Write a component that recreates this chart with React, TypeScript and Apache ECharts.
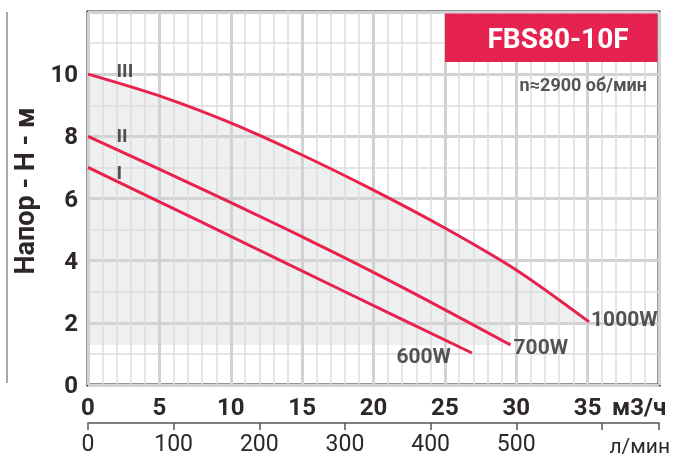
import React, { useEffect, useRef } from "react";
import * as echarts from "echarts";

// ---- data (flow in m³/h, head in m) ----
const curve1000X = [0, 5, 10, 15, 20, 25, 30, 35.1];
const curve1000Y = [10, 9.3, 8.43, 7.4, 6.27, 5.05, 3.7, 2.03];
const curve700X = [0, 8, 15.4, 22, 29.6];
const curve700Y = [8, 6.3, 4.68, 3.15, 1.29];
const curve600X = [0, 8, 18, 26.9];
const curve600Y = [7, 5.23, 3.0, 1.03];

const curveNames = ["1000W", "700W", "600W"];
const romanNames = ["III", "II", "I"];
const romanX = [2, 2, 2];
const romanY = [10.13, 8.03, 6.84];

const flowTicks = [0, 5, 10, 15, 20, 25, 30, 35];
const lpmTicks = [0, 100, 200, 300, 400, 500];
const headTicks = [0, 2, 4, 6, 8, 10];

const X_MAX = 40;
const Y_MAX = 12;

const FF = 'Roboto, "Liberation Sans", "DejaVu Sans", sans-serif';
const RED = "#e8214f";
const DARK = "#2d2729";

const zip = (xs: number[], ys: number[]) => xs.map((x, i) => [x, ys[i]]);

export default function App() {
  const ref = useRef<HTMLDivElement>(null);

  useEffect(() => {
    const chart = echarts.init(ref.current!, null, { renderer: "svg" });

    const c1000 = zip(curve1000X, curve1000Y);
    const c700 = zip(curve700X, curve700Y);
    const c600 = zip(curve600X, curve600Y);
    const last700 = c700[c700.length - 1];
    const last1000 = c1000[c1000.length - 1];

    // operating zone shading: under top curve, down to end of 700W curve
    const zone = [
      ...c1000,
      [last1000[0], 2.0],
      [last700[0], 2.0],
      [last700[0], last700[1]],
      [0, last700[1]],
    ];

    const endPts = [c1000[c1000.length - 1], c700[c700.length - 1], c600[c600.length - 1]];
    const endLabelCfg = [
      { position: "right", distance: 2, offset: [0, -3] },
      { position: "right", distance: 3, offset: [0, 2] },
      { position: "left", distance: 21, offset: [0, 3] },
    ];

    const lineSeries = (data: number[][], name: string) => ({
      type: "line",
      name,
      data,
      smooth: 0.3,
      showSymbol: false,
      symbol: "none",
      lineStyle: { color: RED, width: 3 },
      z: 5,
    });

    const option: any = {
      animation: false,
      grid: {
        left: 88,
        right: 18,
        top: 12,
        bottom: 75,
        show: true,
        borderColor: "#332b2d",
        borderWidth: 3,
        backgroundColor: "transparent",
      },
      xAxis: [
        {
          type: "value",
          min: 0,
          max: X_MAX,
          interval: 5,
          axisLine: { show: false },
          axisTick: { show: false },
          axisLabel: {
            margin: 10,
            fontSize: 24,
            fontWeight: "bold",
            fontFamily: FF,
            color: DARK,
            formatter: (v: number) => (flowTicks.includes(v) ? String(v) : ""),
          },
          splitLine: { show: true, lineStyle: { color: "#d2d2d2", width: 3 } },
          minorTick: { show: false, splitNumber: 5 },
          minorSplitLine: { show: true, lineStyle: { color: "#dcdcdc", width: 1.5 } },
        },
        {
          type: "value",
          position: "bottom",
          offset: 38,
          min: 0,
          max: (X_MAX * 1000) / 60,
          interval: 100,
          axisLine: { show: true, lineStyle: { color: "#555", width: 1.5 } },
          axisTick: { show: true, length: 7, lineStyle: { color: "#555", width: 1.5 } },
          axisLabel: {
            margin: 9,
            fontSize: 23,
            fontFamily: FF,
            color: DARK,
            formatter: (v: number) => (lpmTicks.includes(v) ? String(v) : ""),
          },
          splitLine: { show: false },
        },
      ],
      yAxis: {
        type: "value",
        min: 0,
        max: Y_MAX,
        interval: 2,
        axisLine: { show: false },
        axisTick: { show: false },
        axisLabel: {
          margin: 10,
          fontSize: 24,
          fontWeight: "bold",
          fontFamily: FF,
          color: DARK,
          formatter: (v: number) => (headTicks.includes(v) ? String(v) : ""),
        },
        splitLine: { show: true, lineStyle: { color: "#d2d2d2", width: 3 } },
        minorTick: { show: false, splitNumber: 2 },
        minorSplitLine: { show: true, lineStyle: { color: "#dcdcdc", width: 1.5 } },
      },
      series: [
        {
          type: "custom",
          xAxisIndex: 0,
          z: -1,
          silent: true,
          data: [[0, 0]],
          renderItem: (_p: any, api: any) => ({
            type: "polygon",
            shape: { points: zone.map((p) => api.coord(p)) },
            style: { fill: "#eef0ef" },
          }),
        },
        lineSeries(c1000, "1000W"),
        lineSeries(c700, "700W"),
        lineSeries(c600, "600W"),
        {
          type: "scatter",
          xAxisIndex: 0,
          symbolSize: 0,
          z: 6,
          data: endPts.map((p, i) => ({
            name: curveNames[i],
            value: p,
            label: {
              show: true,
              formatter: curveNames[i],
              position: endLabelCfg[i].position,
              distance: endLabelCfg[i].distance,
              offset: endLabelCfg[i].offset,
              fontSize: 21,
              fontWeight: "bold",
              fontFamily: FF,
              color: DARK,
            },
          })),
        },
        {
          type: "scatter",
          xAxisIndex: 0,
          symbolSize: 0,
          z: 6,
          data: romanNames.map((n, i) => ({
            name: n,
            value: [romanX[i], romanY[i]],
            label: {
              show: true,
              formatter: n,
              position: "right",
              distance: 0,
              fontSize: 19,
              fontWeight: "bold",
              fontFamily: FF,
              color: DARK,
            },
          })),
        },
      ],
      graphic: [
        {
          type: "line",
          shape: { x1: 7, y1: 12, x2: 7, y2: 383 },
          style: { stroke: "#8c8c8c", lineWidth: 1.5 },
        },
        {
          type: "text",
          x: 25,
          y: 191,
          rotation: Math.PI / 2,
          style: {
            text: "Напор - Н - м",
            fontSize: 27,
            fontWeight: "bold",
            fontFamily: FF,
            fill: DARK,
            textAlign: "center",
            textVerticalAlign: "middle",
          },
        },
        {
          type: "rect",
          shape: { x: 445, y: 13.5, width: 212.5, height: 48.5 },
          style: { fill: "#e62250" },
          z: 10,
        },
        {
          type: "text",
          x: 558,
          y: 38,
          z: 11,
          style: {
            text: "FBS80-10F",
            fontSize: 28,
            fontWeight: "bold",
            fontFamily: FF,
            fill: "#ffffff",
            textAlign: "center",
            textVerticalAlign: "middle",
          },
        },
        {
          type: "text",
          x: 647,
          y: 84,
          z: 11,
          style: {
            text: "n≈2900 об/мин",
            fontSize: 18,
            fontWeight: "bold",
            fontFamily: FF,
            fill: "#555555",
            textAlign: "right",
            textVerticalAlign: "middle",
          },
        },
        {
          type: "text",
          x: 612,
          y: 407,
          style: {
            text: "м3/ч",
            fontSize: 24,
            fontWeight: "bold",
            fontFamily: FF,
            fill: DARK,
            textAlign: "left",
            textVerticalAlign: "middle",
          },
        },
        {
          type: "text",
          x: 670,
          y: 446,
          style: {
            text: "л/мин",
            fontSize: 21,
            fontFamily: FF,
            fill: DARK,
            textAlign: "right",
            textVerticalAlign: "middle",
          },
        },
      ],
    };

    chart.setOption(option);
    return () => chart.dispose();
  }, []);

  return (
    <div
      ref={ref}
      style={{ position: "fixed", left: 0, top: 0, width: 677, height: 460 }}
    />
  );
}
